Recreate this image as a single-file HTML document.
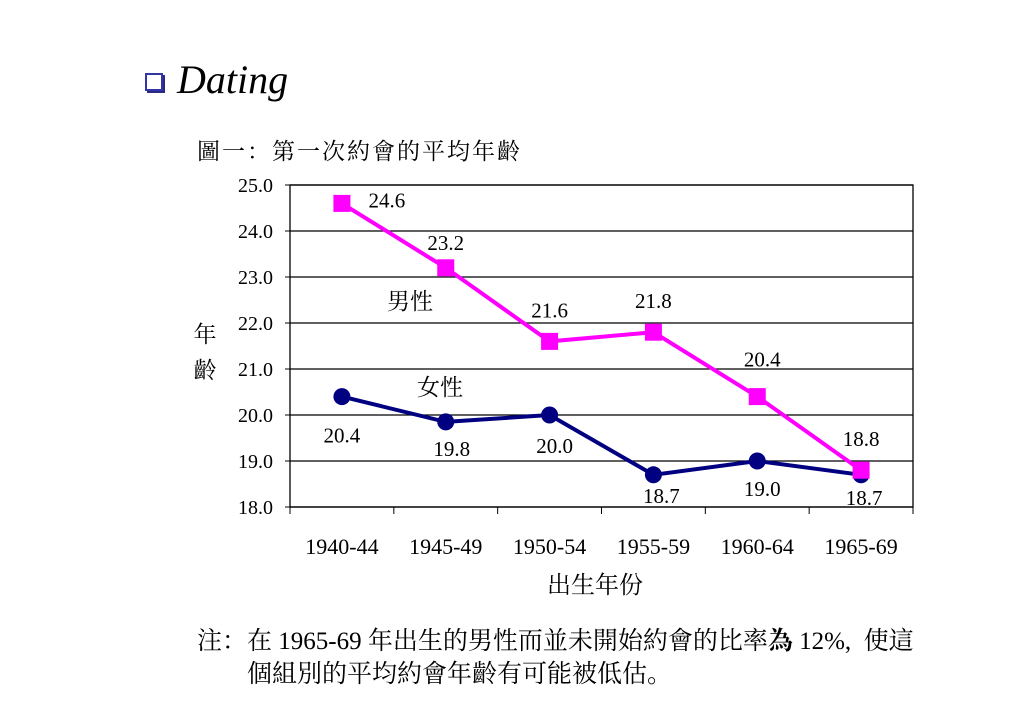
<!DOCTYPE html>
<html><head><meta charset="utf-8"><style>
body{margin:0;width:1023px;height:708px;background:#fff;overflow:hidden;position:relative;font-family:"Liberation Serif","Noto Serif CJK SC","Noto Serif CJK SC",serif}
.t{position:absolute;white-space:nowrap;color:#000}
</style></head><body>
<div style="position:absolute;left:145px;top:73px;width:14px;height:14px;border:2px solid #3333aa;background:#fff;box-shadow:2px 2px 0 #2a2a80"></div>
<div class="t" style="left:177px;top:56px;font-size:40px;font-style:italic">Dating</div>
<div class="t" style="left:197px;top:133px;font-size:23px;letter-spacing:2px;font-family:'Noto Serif CJK SC',serif">圖一：第一次約會的平均年齡</div>
<svg id="c" width="1023" height="708" style="position:absolute;left:0;top:0" font-family="Liberation Serif, Noto Serif CJK SC, serif"></svg>
<div class="t" style="left:197px;top:621px;font-size:25px">注：在 1965-69 年出生的男性而並未開始約會的比率<b>為</b> 12%,&nbsp; 使這</div>
<div class="t" style="left:247px;top:654px;font-size:25px">個組別的平均約會年齡有可能被低估。</div>
<script>
const categories=["1940-44","1945-49","1950-54","1955-59","1960-64","1965-69"];
const maleValues=[24.6,23.2,21.6,21.8,20.4,18.8];
const femaleValues=[20.4,19.85,20.0,18.7,19.0,18.7];
const maleLabels=["24.6","23.2","21.6","21.8","20.4","18.8"];
const femaleLabels=["20.4","19.8","20.0","18.7","19.0","18.7"];
const yTicks=[18,19,20,21,22,23,24,25];
const X0=290,X1=913,Y0=507,Y1=185,ymin=18,ymax=25;
const bw=(X1-X0)/categories.length;
const xs=i=>X0+bw*(i+0.5);
const ys=v=>Y0-(v-ymin)/(ymax-ymin)*(Y0-Y1);
const svg=document.getElementById('c');const NS='http://www.w3.org/2000/svg';
function mk(t,a,p){const e=document.createElementNS(NS,t);for(const k in a)e.setAttribute(k,a[k]);(p||svg).appendChild(e);return e;}
const mOff=[[45,4],[0,-18],[0,-24],[0,-24],[5,-30],[0,-24]];
const fOff=[[0,46],[6,34],[5,38],[8,28],[5,35],[3,30]];
yTicks.forEach(v=>{
 const l=mk('line',{x1:X0,x2:X1,y1:ys(v),y2:ys(v),stroke:'#000','stroke-width':1.3});
 
 mk('line',{x1:X0-5,x2:X0,y1:ys(v),y2:ys(v),stroke:'#000'});
 const t=mk('text',{x:X0-17,y:ys(v)+7,'text-anchor':'end','font-size':20});t.textContent=v.toFixed(1);
 
});
mk('rect',{x:X0,y:Y1,width:X1-X0,height:Y0-Y1,fill:'none',stroke:'#000','stroke-width':1.3});
categories.forEach((c,i)=>{
 mk('line',{x1:X0+bw*i,x2:X0+bw*i,y1:Y0,y2:Y0+7,stroke:'#000'});
 const t=mk('text',{x:xs(i),y:554,'text-anchor':'middle','font-size':22});t.textContent=c;
 
});
mk('line',{x1:X1,x2:X1,y1:Y0,y2:Y0+7,stroke:'#000'});
function series(vals,color,name){
 const p=mk('polyline',{points:vals.map((v,i)=>xs(i)+','+ys(v)).join(' '),fill:'none',stroke:color,'stroke-width':4});
 
}
series(femaleValues,'#000080','female');
series(maleValues,'#ff00ff','male');
femaleValues.forEach((v,i)=>{const e=mk('circle',{cx:xs(i),cy:ys(v),r:8.5,fill:'#000080'});
 
 const t=mk('text',{x:xs(i)+fOff[i][0],y:ys(v)+fOff[i][1],'text-anchor':'middle','font-size':21});t.textContent=femaleLabels[i];
 });
maleValues.forEach((v,i)=>{const e=mk('rect',{x:xs(i)-8.5,y:ys(v)-8.5,width:17,height:17,fill:'#ff00ff'});
 
 const t=mk('text',{x:xs(i)+mOff[i][0],y:ys(v)+mOff[i][1],'text-anchor':'middle','font-size':21});t.textContent=maleLabels[i];
 });
function lab(x,y,s,txt,n){const t=mk('text',{x:x,y:y,'text-anchor':'middle','font-size':s,'font-family':'Noto Serif CJK SC, serif'});t.textContent=txt;
 }
lab(410,309,23,'男性','male-series-label');
lab(440,395,23,'女性','female-series-label');
lab(205,342,23,'年','y-axis-title-1');
lab(205,378,23,'齡','y-axis-title-2');
lab(595,593,24,'出生年份','x-axis-title');
</script>
</body></html>
